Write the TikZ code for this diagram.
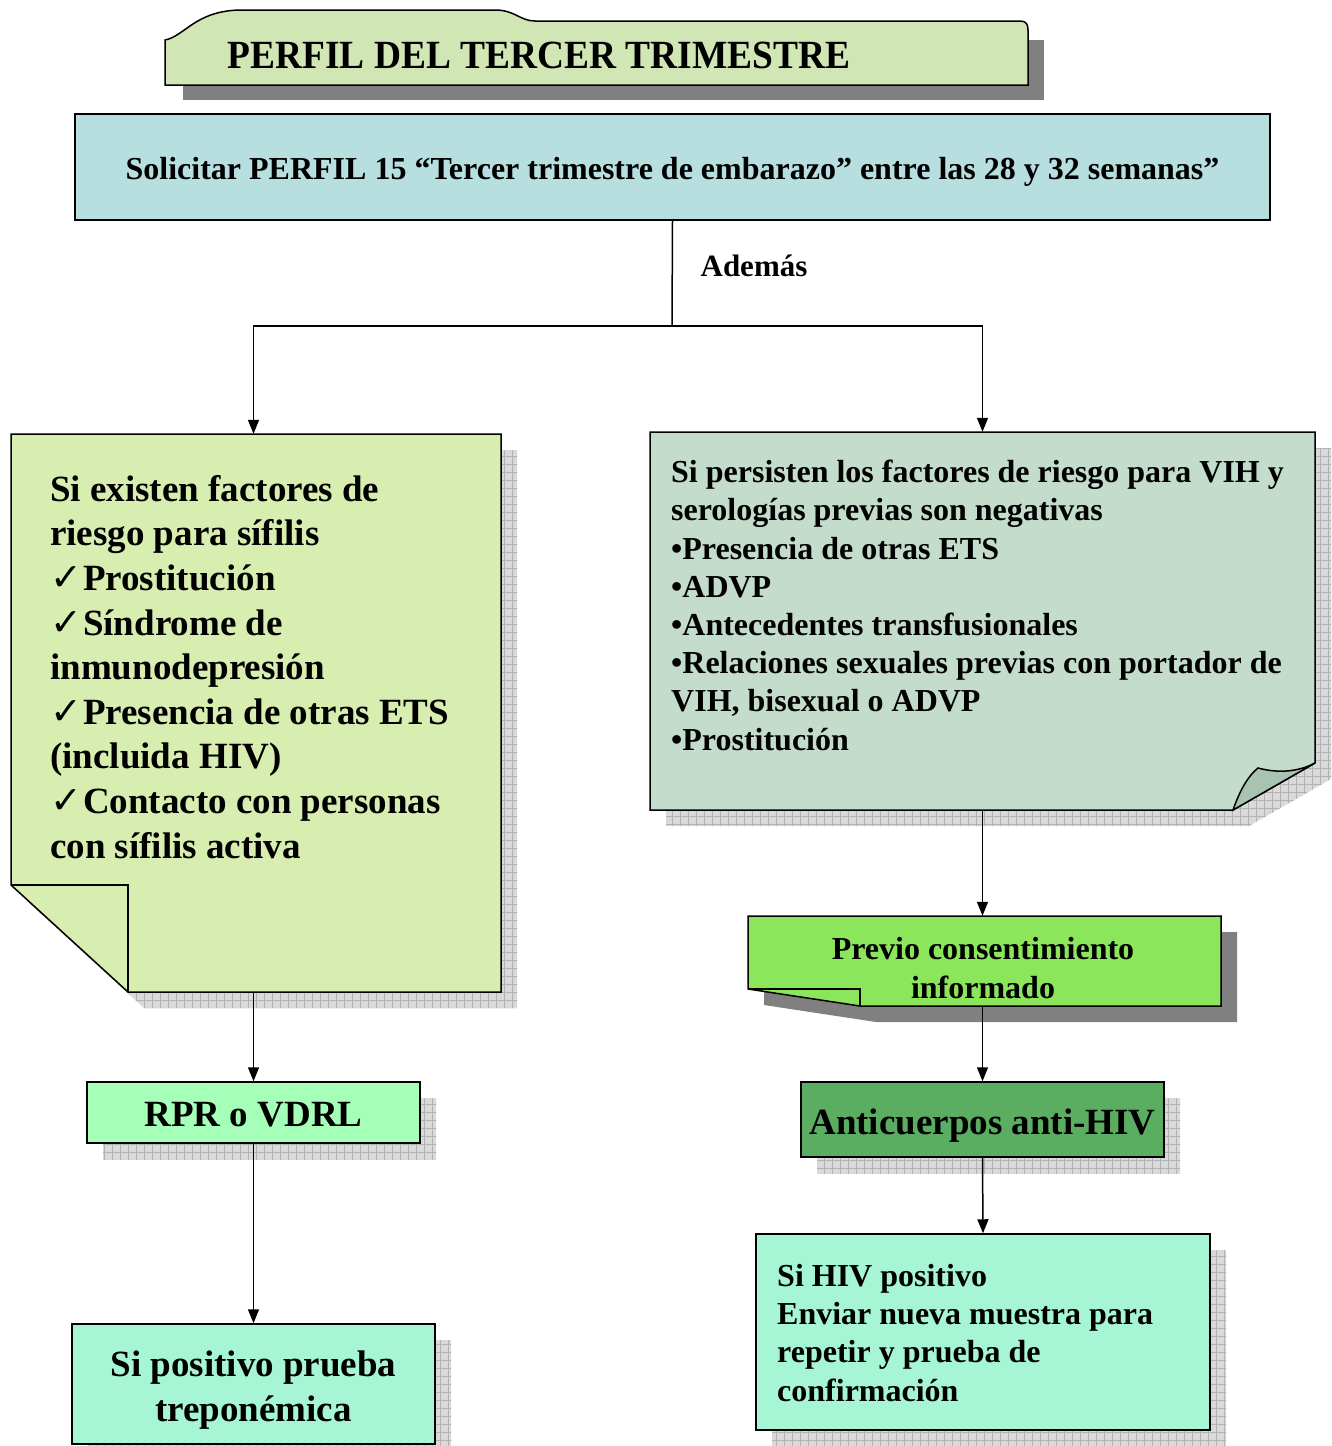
\documentclass[tikz,border=0pt]{standalone}
\usepackage{fontspec}
\setmainfont{Liberation Serif}
\newfontfamily\symfont{DejaVu Sans}
\usetikzlibrary{arrows.meta}
\definecolor{titlefill}{HTML}{D0E6B4}
\definecolor{solfill}{HTML}{B8DFE0}
\definecolor{leftfill}{HTML}{D8EDB0}
\definecolor{rightfill}{HTML}{C4DCCB}
\definecolor{flapfill}{HTML}{A9C3B1}
\definecolor{previofill}{HTML}{8CE65C}
\definecolor{antifill}{HTML}{5BAD62}
\definecolor{rprfill}{HTML}{A5FFB8}
\definecolor{mintfill}{HTML}{A6F6D6}
\definecolor{darkshadow}{HTML}{808080}
\newcommand\hatchshadow[1]{%
  \begin{scope}
    \clip #1;
    \fill[gray!30] (0,0) rectangle (1332,1446);
    \draw[gray!60, line width=0.6pt, step=8pt] (0,0) grid (1332,1446);
  \end{scope}}
\newcommand\ck{{\symfont\fontsize{38}{38}\selectfont ✓}\kern1pt}
\tikzset{
  box/.style={draw=black, line width=1.5pt, inner sep=0pt},
  outline/.style={draw=black, line width=1.5pt},
  holder/.style={inner sep=0pt, draw=none},
  arr/.style={line width=1.5pt, -{Triangle[length=14pt,width=11pt]}},
  plain/.style={line width=1.5pt},
  bigtxt/.style={font=\bfseries\fontsize{37}{44.6}\selectfont, inner sep=0pt},
  midtxt/.style={font=\bfseries\fontsize{32}{38.2}\selectfont, inner sep=0pt},
}
\begin{document}
\begin{tikzpicture}[x=1pt, y=-1pt]
\useasboundingbox[fill=white] (0,0) rectangle (1332,1446);

% ---------- shadows ----------
\fill[darkshadow] (183,40) rectangle (1044,100);
\hatchshadow{(27,450) -- (517,450) -- (517,1008) -- (144,1008) -- (27,901) -- cycle}
\hatchshadow{(666,448) -- (1331,448) -- (1331,779) -- (1249,826) -- (666,826) -- cycle}
\fill[darkshadow] (764,932) -- (1237,932) -- (1237,1022) -- (876,1022) -- (764,1005) -- cycle;
\hatchshadow{(103,1098) rectangle (436,1159)}
\hatchshadow{(817,1098) rectangle (1180,1173)}
\hatchshadow{(772,1250) rectangle (1226,1446)}
\hatchshadow{(88,1340) rectangle (451,1446)}

% ---------- title ----------
\filldraw[fill=titlefill, outline] (165,85) -- (165,40)
  .. controls (185,36) and (195,11) .. (240,10) -- (495,10)
  .. controls (515,10) and (520,21) .. (535,21) -- (1020,21)
  .. controls (1026,21) and (1028,24) .. (1028,30) -- (1028,85) -- cycle;
\node[font=\bfseries\fontsize{40}{40}\selectfont, inner sep=0pt] (title) at (539,55)
  {\scalebox{0.935}[1]{PERFIL DEL TERCER TRIMESTRE}};

% ---------- solicitar ----------
\node[box, fill=solfill, minimum width=1195pt, minimum height=106pt] (sol) at (672.5,167) {};
\node[inner sep=0pt, font=\bfseries\fontsize{32}{38}\selectfont] (soltxt) at (672.5,172)
  {Solicitar PERFIL 15 “Tercer trimestre de embarazo” entre las 28 y 32 semanas”};
\coordinate (split) at (672,326);
\node[font=\bfseries\fontsize{31}{31}\selectfont, inner sep=0pt] (ademas) at (754,266) {Además};

% ---------- left box ----------
\node[holder, minimum width=490pt, minimum height=558pt] (left) at (256,713) {};
\filldraw[fill=leftfill, outline] (11,434) -- (501,434) -- (501,992) -- (128,992) -- (11,885) -- cycle;
\draw[outline] (11,885) -- (128,885) -- (128,992);
\node[bigtxt, align=left, anchor=north west] (lefttxt) at (50,475)
  {Si existen factores de\\
   riesgo para sífilis\\
   \ck Prostitución\\
   \ck Síndrome de\\
   inmunodepresión\\
   \ck Presencia de otras ETS\\
   (incluida HIV)\\
   \ck Contacto con personas\\
   con sífilis activa};

% ---------- right box ----------
\node[holder, minimum width=665pt, minimum height=378pt] (right) at (982.5,621) {};
\filldraw[fill=rightfill, outline] (650,432) -- (1315,432) -- (1315,763) -- (1233,810) -- (650,810) -- cycle;
\filldraw[fill=flapfill, outline] (1233,810) .. controls (1240,790) and (1248,776) .. (1258,768)
  .. controls (1280,774) and (1300,771) .. (1315,763) -- cycle;
\node[midtxt, align=left, anchor=north west] (righttxt) at (671,460)
  {Si persisten los factores de riesgo para VIH y\\
   serologías previas son negativas\\
   •Presencia de otras ETS\\
   •ADVP\\
   •Antecedentes transfusionales\\
   •Relaciones sexuales previas con portador de\\
   VIH, bisexual o ADVP\\
   •Prostitución};

% ---------- previo ----------
\node[holder, minimum width=473pt, minimum height=90pt] (previo) at (984.5,961) {};
\filldraw[fill=previofill, outline] (748,916) -- (1221,916) -- (1221,1006) -- (860,1006) -- (748,989) -- cycle;
\draw[outline] (748,989) -- (860,989) -- (860,1006);
\node[midtxt, align=center] (previotxt) at (983,968) {Previo consentimiento\\informado};

% ---------- small boxes ----------
\node[box, fill=antifill, minimum width=363pt, minimum height=75pt] (anti) at (982.5,1119.5) {};
\node[bigtxt] (antitxt) at (982.5,1125.5) {Anticuerpos anti-HIV};
\node[box, fill=rprfill, minimum width=333pt, minimum height=61pt] (rpr) at (253.5,1112.5) {};
\node[bigtxt] (rprtxt) at (253.5,1115) {RPR o VDRL};
\node[box, fill=mintfill, minimum width=363pt, minimum height=120pt] (trep) at (253.5,1384) {};
\node[align=center, inner sep=0pt, font=\bfseries\fontsize{37}{45}\selectfont] (treptxt) at (253.5,1390)
  {Si positivo prueba\\treponémica};
\node[box, fill=mintfill, minimum width=454pt, minimum height=196pt] (hiv) at (983,1332) {};
\node[midtxt, align=left, anchor=north west] (hivtxt) at (777,1264)
  {Si HIV positivo\\
   Enviar nueva muestra para\\
   repetir y prueba de\\
   confirmación};

% ---------- connectors ----------
\draw[plain] (sol.south) -- (split);
\draw[arr] (split) -| (left.north -| rpr.north);
\draw[arr] (split) -| (right.north);
\draw[arr] (left.south -| rpr.north) -- (rpr.north);
\draw[arr] (rpr.south) -- (trep.north);
\draw[arr] (right.south) -- (right.south |- previo.north);
\draw[arr] (previo.south -| anti.north) -- (anti.north);
\draw[arr] (anti.south) -- (hiv.north);
\end{tikzpicture}
\end{document}
